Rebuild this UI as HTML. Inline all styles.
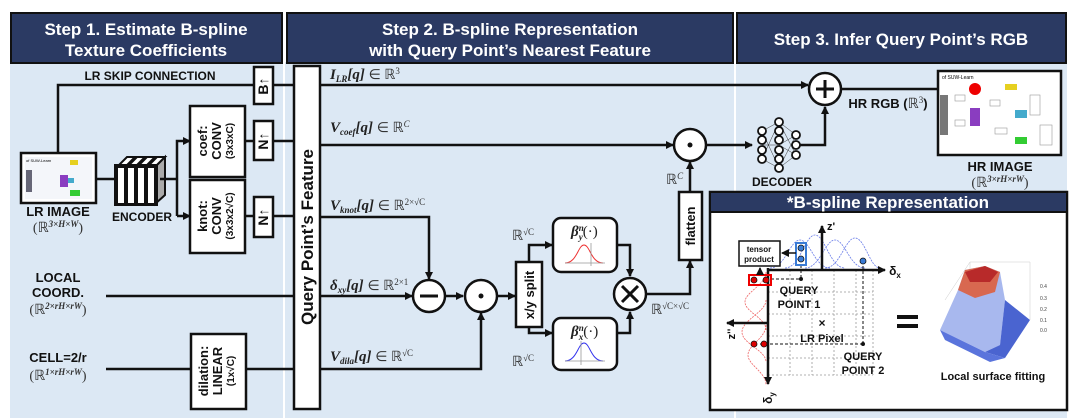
<!DOCTYPE html>
<html><head><meta charset="utf-8"><style>
html,body{margin:0;padding:0;background:#fff;}
svg{display:block;}
.h{font-family:"Liberation Sans",sans-serif;font-weight:bold;fill:#fff;font-size:17px;text-anchor:middle;}
.b{font-family:"Liberation Sans",sans-serif;font-weight:bold;fill:#111;text-anchor:middle;}
.m{font-family:"Liberation Serif",serif;font-weight:bold;font-style:italic;fill:#222;font-size:15px;}
.r{font-family:"Liberation Serif",serif;fill:#333;font-size:14px;}
.ln{stroke:#111;stroke-width:2.5;fill:none;}
.bx{stroke:#111;stroke-width:2.5;fill:#fff;}
.dg{stroke:#999;stroke-width:0.8;stroke-dasharray:2 2;fill:none;}
</style></head><body>
<svg width="1080" height="420" viewBox="0 0 1080 420" xmlns="http://www.w3.org/2000/svg">
<defs>
<marker id="a" markerWidth="8" markerHeight="8" refX="7" refY="4" orient="auto" markerUnits="userSpaceOnUse"><path d="M0,0 L8,4 L0,8 z" fill="#111"/></marker>
</defs>
<rect x="10" y="62" width="1057" height="356" fill="#dce8f4"/>
<line x1="284" y1="62" x2="284" y2="418" stroke="#fff" stroke-width="2"/>
<line x1="735" y1="62" x2="735" y2="418" stroke="#fff" stroke-width="2"/>
<rect x="11" y="13" width="271" height="50" fill="#2b3a63" stroke="#111" stroke-width="2"/>
<rect x="287" y="13" width="446" height="50" fill="#2b3a63" stroke="#111" stroke-width="2"/>
<rect x="737" y="13" width="329" height="50" fill="#2b3a63" stroke="#111" stroke-width="2"/>
<text class="h" x="146" y="35">Step 1. Estimate B-spline</text>
<text class="h" x="146" y="56">Texture Coefficients</text>
<text class="h" x="510" y="35">Step 2. B-spline Representation</text>
<text class="h" x="510" y="56">with Query Point’s Nearest Feature</text>
<text class="h" x="901" y="45">Step 3. Infer Query Point’s RGB</text>

<text class="b" x="150" y="80" font-size="12">LR SKIP CONNECTION</text>
<polyline class="ln" points="58,153 58,85 294,85"/>
<rect x="21" y="153" width="75" height="50" fill="#fff" stroke="#111" stroke-width="2.5"/>
<rect x="25" y="157" width="67" height="42" fill="#f4f6fa"/>
<rect x="26" y="170" width="6" height="22" fill="#667"/>
<rect x="60" y="175" width="8" height="12" fill="#8a3dc0"/>
<rect x="70" y="160" width="8" height="5" fill="#e6d020"/>
<rect x="70" y="190" width="10" height="6" fill="#3c3"/>
<rect x="68" y="178" width="6" height="5" fill="#4ac"/>
<text x="26" y="162" font-size="4" font-family="Liberation Sans">of SUW-Learn</text>
<line class="ln" x1="96" y1="179" x2="115" y2="179"/>
<g stroke="#111" stroke-width="2">
<polygon points="117,167 127,157 135,157 125,167" fill="#fff"/>
<rect x="117" y="167" width="8" height="37" fill="#fff"/>
<polygon points="127,167 137,157 145,157 135,167" fill="#fff"/>
<rect x="127" y="167" width="8" height="37" fill="#fff"/>
<polygon points="137,167 147,157 155,157 145,167" fill="#fff"/>
<rect x="137" y="167" width="8" height="37" fill="#fff"/>
<polygon points="147,167 157,157 165,157 155,167" fill="#fff"/>
<rect x="147" y="167" width="8" height="37" fill="#fff"/>
<polygon points="155,167 165,157 165,195 155,204" fill="#aaa"/>
</g>
<rect x="115" y="165" width="42" height="40" fill="none" stroke="#111" stroke-width="2"/>
<polyline class="ln" points="160,179 177,179"/>
<polyline class="ln" points="177,216 177,141 190,141" marker-end="url(#a)"/>
<line class="ln" x1="177" y1="216" x2="190" y2="216" marker-end="url(#a)"/>
<text class="b" x="58" y="216" font-size="13">LR IMAGE</text>
<text class="r" x="58" y="232" text-anchor="middle" font-size="13">(ℝ<tspan font-size="9" dy="-5" font-style="italic" font-weight="bold">3×H×W</tspan><tspan dy="5">)</tspan></text>
<text class="b" x="142" y="221" font-size="12">ENCODER</text>
<rect class="bx" x="190" y="106" width="55" height="71"/>
<rect class="bx" x="190" y="180" width="55" height="73"/>
<g transform="translate(217,141) rotate(-90)"><text class="b" y="-10" font-size="13" font-weight="normal">coef:</text><text class="b" y="4" font-size="13">CONV</text><text class="b" y="16" font-size="10">(3x3xC)</text></g>
<g transform="translate(217,216) rotate(-90)"><text class="b" y="-10" font-size="13" font-weight="normal">knot:</text><text class="b" y="4" font-size="13">CONV</text><text class="b" y="16" font-size="10">(3x3x2√C)</text></g>
<line class="ln" x1="245" y1="141" x2="294" y2="141"/>
<line class="ln" x1="245" y1="216" x2="294" y2="216"/>
<rect class="bx" x="254" y="67" width="19" height="37"/>
<rect class="bx" x="254" y="121" width="19" height="39"/>
<rect class="bx" x="254" y="197" width="19" height="40"/>
<g transform="translate(268,86) rotate(-90)"><text class="b" font-size="14">B↑</text></g>
<g transform="translate(268,141) rotate(-90)"><text class="b" font-size="14">N↑</text></g>
<g transform="translate(268,217) rotate(-90)"><text class="b" font-size="14">N↑</text></g>
<text class="b" x="58" y="282" font-size="13">LOCAL</text>
<text class="b" x="58" y="297" font-size="13">COORD.</text>
<text class="r" x="58" y="314" text-anchor="middle" font-size="13">(ℝ<tspan font-size="9" dy="-5" font-style="italic" font-weight="bold">2×rH×rW</tspan><tspan dy="5">)</tspan></text>
<line class="ln" x1="106" y1="296" x2="294" y2="296"/>
<text class="b" x="58" y="362" font-size="13">CELL=2/r</text>
<text class="r" x="58" y="380" text-anchor="middle" font-size="13">(ℝ<tspan font-size="9" dy="-5" font-style="italic" font-weight="bold">1×rH×rW</tspan><tspan dy="5">)</tspan></text>
<line class="ln" x1="106" y1="369" x2="191" y2="369"/>
<rect class="bx" x="191" y="334" width="55" height="75"/>
<g transform="translate(218,371) rotate(-90)"><text class="b" y="-10" font-size="13" font-weight="normal">dilation:</text><text class="b" y="4" font-size="13">LINEAR</text><text class="b" y="16" font-size="10">(1x√C)</text></g>
<line class="ln" x1="246" y1="369" x2="294" y2="369"/>

<rect class="bx" x="294" y="66" width="26" height="343"/>
<g transform="translate(313,237) rotate(-90)"><text class="b" font-size="17">Query Point’s Feature</text></g>

<line class="ln" x1="320" y1="85" x2="808" y2="85" marker-end="url(#a)"/>
<text class="m" x="330" y="79">I<tspan font-size="9" dy="3">LR</tspan><tspan dy="-3">[q] </tspan><tspan class="r" font-style="normal" font-weight="normal">∈ ℝ<tspan font-size="9" dy="-5">3</tspan></tspan></text>
<line class="ln" x1="320" y1="145" x2="673" y2="145" marker-end="url(#a)"/>
<text class="m" x="330" y="132">V<tspan font-size="9" dy="3">coef</tspan><tspan dy="-3">[q] </tspan><tspan class="r" font-style="normal" font-weight="normal">∈ ℝ<tspan font-size="9" dy="-5" font-style="italic">C</tspan></tspan></text>
<polyline class="ln" points="320,217 429,217 429,279" marker-end="url(#a)"/>
<text class="m" x="330" y="210">V<tspan font-size="9" dy="3">knot</tspan><tspan dy="-3">[q] </tspan><tspan class="r" font-style="normal" font-weight="normal">∈ ℝ<tspan font-size="9" dy="-5">2×√C</tspan></tspan></text>
<line class="ln" x1="320" y1="296" x2="412" y2="296" marker-end="url(#a)"/>
<text class="m" x="330" y="290">δ<tspan font-size="9" dy="3">xy</tspan><tspan dy="-3">[q] </tspan><tspan class="r" font-style="normal" font-weight="normal">∈ ℝ<tspan font-size="9" dy="-5">2×1</tspan></tspan></text>
<polyline class="ln" points="320,369 481,369 481,313" marker-end="url(#a)"/>
<text class="m" x="330" y="361">V<tspan font-size="9" dy="3">dila</tspan><tspan dy="-3">[q] </tspan><tspan class="r" font-style="normal" font-weight="normal">∈ ℝ<tspan font-size="9" dy="-5">√C</tspan></tspan></text>
<circle class="bx" cx="429" cy="296" r="16"/>
<line x1="420" y1="296" x2="438" y2="296" stroke="#111" stroke-width="3"/>
<line class="ln" x1="445" y1="296" x2="463" y2="296" marker-end="url(#a)"/>
<circle class="bx" cx="481" cy="296" r="16"/>
<circle cx="481" cy="296" r="2.5" fill="#111"/>
<line class="ln" x1="497" y1="296" x2="515" y2="296" marker-end="url(#a)"/>
<rect class="bx" x="516" y="262" width="26" height="65"/>
<g transform="translate(534,295) rotate(-90)"><text class="b" font-size="13">x/y split</text></g>
<polyline class="ln" points="529,262 529,245 552,245" marker-end="url(#a)"/>
<polyline class="ln" points="529,327 529,333 552,333" marker-end="url(#a)"/>
<text class="r" x="512" y="240">ℝ<tspan font-size="9" dy="-5">√C</tspan></text>
<text class="r" x="512" y="366">ℝ<tspan font-size="9" dy="-5">√C</tspan></text>
<rect class="bx" x="553" y="218" width="64" height="54" rx="8"/>
<rect class="bx" x="553" y="318" width="64" height="52" rx="8"/>
<text class="m" x="571" y="236">β<tspan font-size="9" dy="-5">n</tspan><tspan font-size="9" dx="-5" dy="9">y</tspan><tspan dy="-4" font-style="normal" font-weight="normal">(·)</tspan></text>
<text class="m" x="571" y="336">β<tspan font-size="9" dy="-5">n</tspan><tspan font-size="9" dx="-5" dy="9">x</tspan><tspan dy="-4" font-style="normal" font-weight="normal">(·)</tspan></text>
<path d="M565,263 C577,263 578,245 584,245 C590,245 591,263 603,263" stroke="#e33" stroke-width="1" fill="none"/>
<line x1="565" y1="263" x2="605" y2="263" stroke="#999" stroke-width="0.8"/><line x1="591" y1="243" x2="591" y2="266" stroke="#999" stroke-width="0.8"/>
<path d="M565,361 C577,361 578,343 584,343 C590,343 591,361 603,361" stroke="#33e" stroke-width="1" fill="none"/>
<line x1="565" y1="361" x2="605" y2="361" stroke="#999" stroke-width="0.8"/><line x1="581" y1="341" x2="581" y2="365" stroke="#999" stroke-width="0.8"/>
<polyline class="ln" points="617,245 630,245 630,276" marker-end="url(#a)"/>
<polyline class="ln" points="617,333 630,333 630,312" marker-end="url(#a)"/>
<circle class="bx" cx="630" cy="294" r="16"/>
<line x1="622" y1="286" x2="638" y2="302" stroke="#111" stroke-width="3"/>
<line x1="638" y1="286" x2="622" y2="302" stroke="#111" stroke-width="3"/>
<polyline class="ln" points="646,294 690,294 690,261" marker-end="url(#a)"/>
<text class="r" x="651" y="314">ℝ<tspan font-size="9" dy="-5">√C×√C</tspan></text>
<rect class="bx" x="679" y="192" width="23" height="68"/>
<g transform="translate(695,226) rotate(-90)"><text class="b" font-size="13">flatten</text></g>
<line class="ln" x1="690" y1="192" x2="690" y2="162" marker-end="url(#a)"/>
<text class="r" x="666" y="184">ℝ<tspan font-size="9" dy="-5" font-style="italic">C</tspan></text>
<circle class="bx" cx="690" cy="145" r="16"/>
<circle cx="690" cy="145" r="2.5" fill="#111"/>

<line class="ln" x1="706" y1="145" x2="752" y2="145" marker-end="url(#a)"/>
<g stroke="#333" stroke-width="0.5">
<line x1="762" y1="131" x2="779" y2="122"/><line x1="762" y1="131" x2="779" y2="168"/><line x1="762" y1="159" x2="779" y2="122"/><line x1="762" y1="159" x2="779" y2="168"/><line x1="762" y1="145" x2="779" y2="145"/>
<line x1="779" y1="122" x2="796" y2="135"/><line x1="779" y1="168" x2="796" y2="155"/><line x1="779" y1="145" x2="796" y2="135"/><line x1="779" y1="145" x2="796" y2="155"/><line x1="779" y1="122" x2="796" y2="155"/><line x1="779" y1="168" x2="796" y2="135"/>
</g>
<g fill="#fff" stroke="#111" stroke-width="1.8">
<circle cx="762" cy="131" r="4"/><circle cx="762" cy="140" r="4"/><circle cx="762" cy="150" r="4"/><circle cx="762" cy="159" r="4"/>
<circle cx="779" cy="122" r="4"/><circle cx="779" cy="131" r="4"/><circle cx="779" cy="140" r="4"/><circle cx="779" cy="150" r="4"/><circle cx="779" cy="159" r="4"/><circle cx="779" cy="168" r="4"/>
<circle cx="796" cy="135" r="4"/><circle cx="796" cy="145" r="4"/><circle cx="796" cy="155" r="4"/>
</g>
<text class="b" x="782" y="186" font-size="12">DECODER</text>
<polyline class="ln" points="800,145 825,145 825,107" marker-end="url(#a)"/>
<circle class="bx" cx="825" cy="89" r="16"/>
<line x1="816" y1="89" x2="834" y2="89" stroke="#111" stroke-width="3"/><line x1="825" y1="80" x2="825" y2="98" stroke="#111" stroke-width="3"/>
<line class="ln" x1="841" y1="89" x2="970" y2="89"/>
<text class="b" x="888" y="108" font-size="13">HR RGB (<tspan class="r" font-weight="normal">ℝ<tspan font-size="9" dy="-5">3</tspan></tspan><tspan dy="5">)</tspan></text>
<rect x="938" y="71" width="123" height="84" fill="#fff" stroke="#111" stroke-width="2.5"/>
<text x="942" y="79" font-size="5" font-family="Liberation Sans">of SUW-Learn</text>
<rect x="940" y="95" width="8" height="40" fill="#777"/>
<g stroke="#999" stroke-width="0.6" fill="none">
<rect x="955" y="95" width="10" height="6"/><rect x="990" y="100" width="10" height="6"/><rect x="955" y="120" width="10" height="6"/><rect x="995" y="128" width="12" height="6"/><rect x="1030" y="95" width="10" height="20"/><rect x="1040" y="125" width="12" height="20"/>
</g>
<rect x="1005" y="84" width="12" height="6" fill="#e6d020"/>
<rect x="970" y="108" width="10" height="18" fill="#8a3dc0"/>
<rect x="1015" y="110" width="12" height="8" fill="#4ac"/>
<rect x="1015" y="137" width="12" height="7" fill="#3c3"/>
<circle cx="975" cy="89" r="6" fill="#e00"/>
<text class="b" x="1000" y="171" font-size="13">HR IMAGE</text>
<text class="r" x="1000" y="187" text-anchor="middle" font-size="13">(ℝ<tspan font-size="9" dy="-5" font-style="italic" font-weight="bold">3×rH×rW</tspan><tspan dy="5">)</tspan></text>

<rect x="710" y="192" width="357" height="218" fill="#fff" stroke="#111" stroke-width="2.5"/>
<rect x="711" y="193" width="355" height="19" fill="#2b3a63"/>
<line x1="710" y1="212" x2="1067" y2="212" stroke="#111" stroke-width="2"/>
<text class="h" x="888" y="208" font-size="15">*B-spline Representation</text>
<g class="dg">
<line x1="790" y1="270" x2="790" y2="375"/><line x1="812" y1="270" x2="812" y2="375"/><line x1="834" y1="270" x2="834" y2="375"/><line x1="856" y1="270" x2="856" y2="375"/><line x1="873" y1="270" x2="873" y2="375"/>
<line x1="768" y1="292" x2="873" y2="292"/><line x1="768" y1="314" x2="873" y2="314"/><line x1="768" y1="336" x2="873" y2="336"/><line x1="768" y1="358" x2="873" y2="358"/><line x1="768" y1="375" x2="873" y2="375"/>
</g>
<g stroke="#6a7de8" stroke-width="0.8" stroke-dasharray="2 1" fill="none">
<path d="M770,268 C785,268 790,240 800,240 C810,240 815,268 830,268"/>
<path d="M785,268 C800,268 805,235 815,235 C825,235 830,268 845,268"/>
<path d="M805,268 C820,268 825,240 835,240 C845,240 850,268 865,268"/>
<path d="M825,268 C840,268 845,238 855,238 C865,238 870,268 880,268"/>
</g>
<g stroke="#e66" stroke-width="0.8" stroke-dasharray="2 1" fill="none">
<path d="M766,272 C766,285 745,292 745,302 C745,312 766,318 766,330"/>
<path d="M766,300 C766,312 742,320 742,332 C742,344 766,350 766,362"/>
<path d="M766,325 C766,338 748,345 748,355 C748,365 766,372 766,385"/>
</g>
<line class="ln" x1="768" y1="270" x2="885" y2="270" marker-end="url(#a)"/>
<line class="ln" x1="768" y1="268" x2="768" y2="384" marker-end="url(#a)"/>
<line class="ln" x1="822" y1="270" x2="822" y2="226" marker-end="url(#a)"/>
<line class="ln" x1="768" y1="323" x2="727" y2="323" marker-end="url(#a)"/>
<text class="b" x="895" y="275" font-size="12">δ<tspan font-size="8" dy="3">x</tspan></text>
<text class="b" x="831" y="230" font-size="11">z'</text>
<g transform="translate(735,334) rotate(-90)"><text class="b" font-size="11">z''</text></g>
<g transform="translate(772,398) rotate(-90)"><text class="b" font-size="12">δ<tspan font-size="8" dy="3">y</tspan></text></g>
<g stroke="#111" stroke-width="1" stroke-dasharray="3 2" fill="none">
<line x1="771" y1="279" x2="801" y2="279"/><line x1="801" y1="265" x2="801" y2="279"/>
<line x1="760" y1="344" x2="863" y2="344"/><line x1="863" y1="261" x2="863" y2="344"/>
</g>
<circle cx="801" cy="279" r="2" fill="#111"/><circle cx="863" cy="344" r="2" fill="#111"/>
<rect x="796" y="243" width="10" height="22" fill="none" stroke="#3a7bd5" stroke-width="2"/>
<circle cx="801" cy="248" r="3" fill="#3a7bd5" stroke="#111" stroke-width="0.8"/><circle cx="801" cy="259" r="3" fill="#3a7bd5" stroke="#111" stroke-width="0.8"/>
<circle cx="863" cy="261" r="3" fill="#3a7bd5" stroke="#111" stroke-width="0.8"/>
<rect x="749" y="275" width="22" height="10" fill="none" stroke="#e00" stroke-width="2"/>
<circle cx="754" cy="280" r="3" fill="#d00" stroke="#111" stroke-width="0.8"/><circle cx="766" cy="280" r="3" fill="#d00" stroke="#111" stroke-width="0.8"/>
<circle cx="754" cy="344" r="3" fill="#d00" stroke="#111" stroke-width="0.8"/><circle cx="764" cy="344" r="3" fill="#d00" stroke="#111" stroke-width="0.8"/>
<rect x="739" y="241" width="41" height="25" fill="#fff" stroke="#111" stroke-width="1.5"/>
<text class="b" x="759" y="252" font-size="8">tensor</text><text class="b" x="759" y="262" font-size="8">product</text>
<line stroke="#111" stroke-width="1.5" x1="796" y1="253" x2="782" y2="253" marker-end="url(#a)"/>
<line stroke="#111" stroke-width="1.5" x1="760" y1="275" x2="760" y2="268" marker-end="url(#a)"/>
<text class="b" x="799" y="294" font-size="11">QUERY</text>
<text class="b" x="799" y="308" font-size="11">POINT 1</text>
<text class="b" x="822" y="327" font-size="12">×</text>
<text class="b" x="822" y="342" font-size="11">LR Pixel</text>
<text class="b" x="863" y="360" font-size="11">QUERY</text>
<text class="b" x="863" y="374" font-size="11">POINT 2</text>
<rect x="897" y="315" width="21" height="4" fill="#111"/><rect x="897" y="324" width="21" height="4" fill="#111"/>
<g stroke="#ccc" stroke-width="0.5" fill="none">
<polyline points="945,300 970,262 1030,262 1030,320"/><line x1="970" y1="262" x2="970" y2="310"/>
</g>
<polygon points="940,330 958,290 965,270 985,266 1000,272 1005,300 1000,345 985,352" fill="#a8b8ee"/>
<polygon points="958,290 965,270 985,266 1000,272 995,292 975,298" fill="#d86850"/>
<polygon points="965,272 985,266 998,272 990,282 970,282" fill="#b82a2a"/>
<polygon points="985,352 1000,345 1005,300 1030,320 1005,358" fill="#4a64d0"/>
<polygon points="940,330 985,352 1005,358 990,362 945,340" fill="#5a74dc"/>
<text font-size="5" fill="#444" font-family="Liberation Sans" x="1040" y="288">0.4</text>
<text font-size="5" fill="#444" font-family="Liberation Sans" x="1040" y="300">0.3</text>
<text font-size="5" fill="#444" font-family="Liberation Sans" x="1040" y="311">0.2</text>
<text font-size="5" fill="#444" font-family="Liberation Sans" x="1040" y="322">0.1</text>
<text font-size="5" fill="#444" font-family="Liberation Sans" x="1040" y="332">0.0</text>
<text class="b" x="993" y="380" font-size="11">Local surface fitting</text>
</svg>
</body></html>
